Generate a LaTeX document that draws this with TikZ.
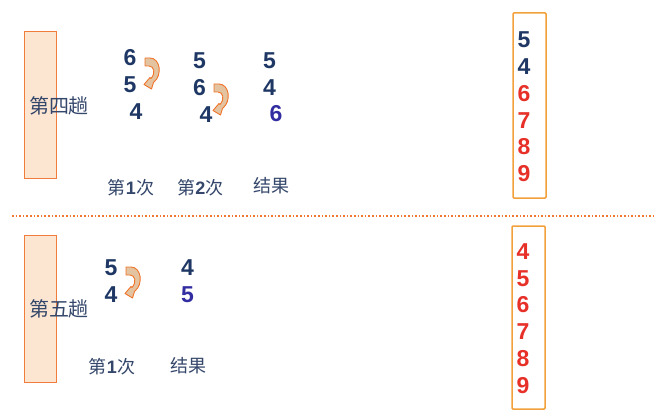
\documentclass[tikz,border=0pt]{standalone}
\usepackage{fontspec}
\setmainfont{Liberation Sans}
\newfontfamily\cjk{Noto Sans CJK SC}
\definecolor{navy}{RGB}{30,55,100}
\definecolor{purp}{RGB}{50,45,160}
\definecolor{redn}{RGB}{230,48,40}
\definecolor{labc}{RGB}{52,70,106}
\definecolor{barc}{RGB}{240,125,60}
\definecolor{barfill}{RGB}{252,230,210}
\definecolor{boxc}{RGB}{242,160,60}
\definecolor{arrfill}{RGB}{228,195,160}
\definecolor{arrline}{RGB}{240,115,40}
\definecolor{sepc}{RGB}{240,120,50}
\newcommand\dg[1]{{\rmfamily\bfseries #1}}
\begin{document}
\begin{tikzpicture}[x=1pt,y=-1pt,
  num/.style={font=\fontsize{23}{23}\selectfont\bfseries, inner sep=0pt},
  nv/.style={num, text=navy},
  pp/.style={num, text=purp},
  rd/.style={num, text=redn},
  lab/.style={font=\cjk\fontsize{18}{18}\selectfont, text=labc, inner sep=0pt},
  trip/.style={font=\cjk\fontsize{20}{20}\selectfont, text=labc, inner sep=0pt},
  bar/.style={draw=barc, fill=barfill, line width=1pt, inner sep=0pt},
  rbox/.style={draw=boxc, line width=1.5pt, rounded corners=1pt, inner sep=0pt},
  sepline/.style={draw=sepc, line width=1.6pt, dotted},
  arrsty/.style={fill=arrfill, draw=arrline, line width=0.9pt, line join=round},
  swaparrow/.pic={
    \path[arrsty] (0,0) -- (5,0) .. controls (15,0) and (18,17) .. (8.5,24.5)
      -- (6.5,31) -- (-1,26.5) -- (5,19.5) -- (6,20.5)
      .. controls (11,15) and (9,8) .. (4,8) -- (0,8) -- cycle;
  }]
\useasboundingbox (0,0) rectangle (657,420);

% bars
\node[bar, minimum width=32, minimum height=146] (bar4) at (40,105) {};
\node[bar, minimum width=32, minimum height=147] (bar5) at (40,308.5) {};
\node[trip] (t4) at (59,106) {第四趟};
\node[trip] (t5) at (59,309) {第五趟};

% top pass numbers
\node[nv] (a1) at (130,57.5) {6};
\node[nv] (a2) at (130,85) {5};
\node[nv] (a3) at (136,112) {4};
\node[nv] (b1) at (199.5,61) {5};
\node[nv] (b2) at (199.5,88) {6};
\node[nv] (b3) at (206,115) {4};
\node[nv] (c1) at (269.5,61) {5};
\node[nv] (c2) at (269.5,88) {4};
\node[pp] (c3) at (276,114) {6};
\pic at (145,58) {swaparrow};
\pic at (214,84) {swaparrow};

\node[lab] (l1) at (131,188) {第\dg{1}次};
\node[lab] (l2) at (200.5,188) {第\dg{2}次};
\node[lab] (l3) at (271.5,186) {结果};

% separator
\coordinate (dl) at (12,216);
\coordinate (dr) at (653,216);
\draw[sepline] (dl) -- (dr);

% bottom pass numbers
\node[nv] (d1) at (111,268) {5};
\node[nv] (d2) at (111,295) {4};
\node[nv] (e1) at (187.5,268) {4};
\node[pp] (e2) at (187.5,295) {5};
\pic at (126,267) {swaparrow};
\node[lab] (m1) at (112,367) {第\dg{1}次};
\node[lab] (m2) at (188.5,366) {结果};

% right boxes
\node[rbox, minimum width=33, minimum height=185] (rb1) at (529.5,105.5) {};
\node[nv] (r11) at (524,40) {5};
\node[nv] (r12) at (524,67) {4};
\node[rd] (r13) at (524,94) {6};
\node[rd] (r14) at (524,120.5) {7};
\node[rd] (r15) at (524,147) {8};
\node[rd] (r16) at (524,173.5) {9};

\node[rbox, minimum width=33, minimum height=183] (rb2) at (528.5,317.5) {};
\node[rd] (r21) at (523,252) {4};
\node[rd] (r22) at (523,279) {5};
\node[rd] (r23) at (523,305) {6};
\node[rd] (r24) at (523,332) {7};
\node[rd] (r25) at (523,358.5) {8};
\node[rd] (r26) at (523,386) {9};
\end{tikzpicture}
\end{document}
